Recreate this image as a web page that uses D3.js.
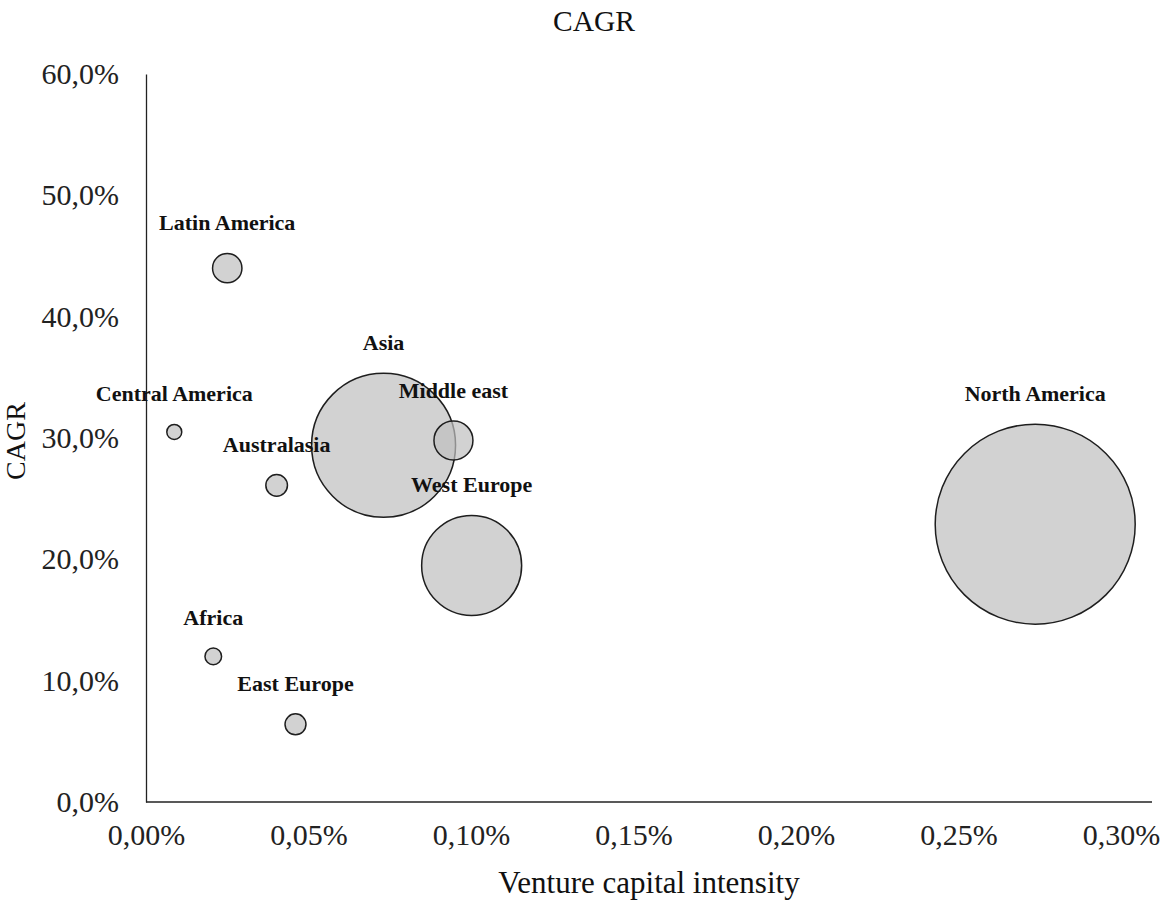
<!DOCTYPE html>
<html>
<head>
<meta charset="utf-8">
<script src="https://cdn.jsdelivr.net/npm/d3@7"></script>
<style>
  html, body { margin: 0; padding: 0; background: #fff; }
  svg { display: block; }
  text { font-family: "Liberation Serif", "Times New Roman", serif; }
</style>
</head>
<body>
<svg id="chart" width="1160" height="900"></svg>
<script>
// Regions: venture capital intensity (% of GDP), CAGR (%), bubble size (relative VC volume)
const regions = ["Latin America", "Central America", "Australasia", "Asia", "Middle east",
                 "West Europe", "North America", "Africa", "East Europe"];
const vcIntensity = [0.0250, 0.0087, 0.0402, 0.0731, 0.0946, 0.1002, 0.2736, 0.0207, 0.0460];
const cagr        = [44.0, 30.5, 26.1, 29.4, 29.8, 19.5, 22.9, 12.0, 6.4];
const bubbleSize  = [2.16, 0.56, 1.17, 51.8, 3.8, 25.0, 100.0, 0.69, 1.10];

const xTicks = [0, 0.05, 0.10, 0.15, 0.20, 0.25, 0.30];
const yTicks = [0, 10, 20, 30, 40, 50, 60];

const svg = d3.select("#chart");

const x = d3.scaleLinear().domain([0, 0.30]).range([146, 1121]);
const y = d3.scaleLinear().domain([0, 60]).range([802, 74]);
const r = d3.scaleSqrt().domain([0, 100]).range([0, 100]);

const fmtX = v => d3.format(".2f")(v).replace(".", ",") + "%";
const fmtY = v => d3.format(".1f")(v).replace(".", ",") + "%";

// Title
svg.append("text")
  .attr("x", 594).attr("y", 31)
  .attr("text-anchor", "middle")
  .attr("font-size", 29.5)
  .attr("fill", "#111")
  .text("CAGR");

// Y axis
const yAxis = svg.append("g")
  .attr("transform", "translate(146,0)")
  .call(d3.axisLeft(y).tickValues(yTicks).tickFormat(fmtY).tickSize(0).tickPadding(27));
yAxis.select(".domain").attr("stroke", "#222").attr("stroke-width", 1.3);
yAxis.selectAll("text")
  .attr("font-size", 30)
  .attr("fill", "#222")
  .attr("font-family", "Liberation Serif, serif")
  .attr("dy", "0.32em");

// X axis
const xAxis = svg.append("g")
  .attr("transform", "translate(0,802)")
  .call(d3.axisBottom(x).tickValues(xTicks).tickFormat(fmtX).tickSize(0).tickPadding(22));
xAxis.select(".domain").remove();
xAxis.append("line")
  .attr("x1", 146).attr("x2", 1152)
  .attr("y1", 0).attr("y2", 0)
  .attr("stroke", "#222").attr("stroke-width", 1.3);
xAxis.selectAll("text")
  .attr("font-size", 30)
  .attr("fill", "#222")
  .attr("font-family", "Liberation Serif, serif")
  .attr("dy", "0.71em");

// Axis titles
svg.append("text")
  .attr("x", 649).attr("y", 893)
  .attr("text-anchor", "middle")
  .attr("font-size", 31)
  .attr("fill", "#111")
  .text("Venture capital intensity");

svg.append("text")
  .attr("transform", "translate(25,441) rotate(-90)")
  .attr("text-anchor", "middle")
  .attr("font-size", 28)
  .attr("fill", "#111")
  .text("CAGR");

// Bubbles
const data = regions.map((name, i) => ({
  name, vx: vcIntensity[i], vy: cagr[i], size: bubbleSize[i]
}));

const order = data.slice().sort((a, b) => b.size - a.size);

svg.append("g").selectAll("circle")
  .data(order)
  .join("circle")
  .attr("cx", d => x(d.vx))
  .attr("cy", d => y(d.vy))
  .attr("r", d => r(d.size))
  .attr("fill", "rgba(191,191,191,0.7)")
  .attr("stroke", "#1e1e1e")
  .attr("stroke-width", 1.5);

// Region labels above each bubble
svg.append("g").selectAll("text")
  .data(data)
  .join("text")
  .attr("x", d => x(d.vx))
  .attr("y", d => y(d.vy) - r(d.size) - 23)
  .attr("text-anchor", "middle")
  .attr("font-size", 22)
  .attr("font-weight", "bold")
  .attr("fill", "#111")
  .text(d => d.name);
</script>
</body>
</html>
